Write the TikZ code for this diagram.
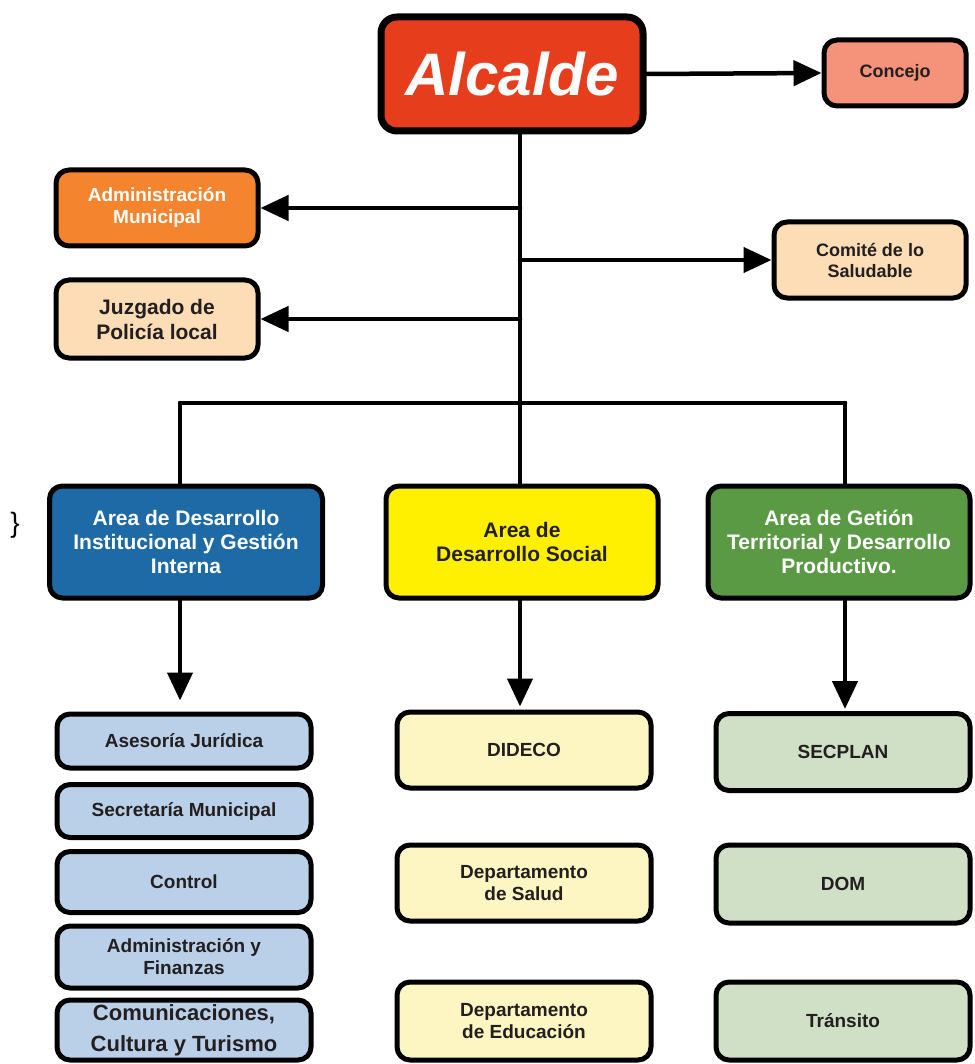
\documentclass[tikz,border=0pt]{standalone}
\usepackage{fontspec}
\setmainfont{Liberation Sans}
\usepackage{tikz}
\usetikzlibrary{arrows.meta}
\definecolor{rojo}{HTML}{E63E1C}
\definecolor{salmon}{HTML}{F4927A}
\definecolor{naranja}{HTML}{F5842F}
\definecolor{durazno}{HTML}{FCDDB6}
\definecolor{azul}{HTML}{1D6AA6}
\definecolor{amarillo}{HTML}{FFF000}
\definecolor{verde}{HTML}{5B9A45}
\definecolor{celeste}{HTML}{BAD0E9}
\definecolor{crema}{HTML}{FDF6C2}
\definecolor{verdeclaro}{HTML}{D0E0C6}
\definecolor{tinta}{HTML}{231F20}

\begin{document}
\begin{tikzpicture}[x=1pt,y=-1pt,line cap=round,line join=round,
  >={Triangle[length=28pt,width=25pt]},
  caja/.style={draw=black,line width=5pt,rounded corners=13pt,align=center,
    text=tinta,inner sep=0pt,font=\bfseries\fontsize{18}{21}\selectfont},
  hijo/.style={caja,minimum width=254pt,font=\bfseries\fontsize{19}{22}\selectfont},
  area/.style={caja,minimum height=112pt,font=\bfseries\fontsize{21}{24}\selectfont},
  linea/.style={line width=4.5pt}]
\useasboundingbox (0,0) rectangle (974,1064);
\fill[white] (0,0) rectangle (974,1064);

\node[caja,fill=rojo,text=white,line width=7pt,rounded corners=16pt,minimum width=262pt,minimum height=114pt,
  font=\bfseries\itshape\fontsize{60}{62}\selectfont] (alcalde) at (512,74) {Alcalde};
\node[caja,fill=salmon,minimum width=142pt,minimum height=66pt] (concejo) at (895,73) {Concejo};
\node[caja,fill=naranja,text=white,minimum width=202pt,minimum height=76pt,
  font=\bfseries\fontsize{19}{22}\selectfont] (admin) at (157,208) {Administración\\Municipal};
\node[caja,fill=durazno,minimum width=202pt,minimum height=78pt,
  font=\bfseries\fontsize{21}{25}\selectfont] (juzgado) at (157,319) {Juzgado de\\Policía local};
\node[caja,fill=durazno,minimum width=192pt,minimum height=76pt] (comite) at (870,260) {Comité de lo\\Saludable};

\node[area,fill=azul,text=white,minimum width=273pt] (inst) at (186,542) {Area de Desarrollo\\Institucional y Gestión\\Interna};
\node[area,fill=amarillo,minimum width=272pt] (social) at (522,542) {Area de\\Desarrollo Social};
\node[area,fill=verde,text=white,minimum width=262pt] (terr) at (839,542) {Area de Getión\\Territorial y Desarrollo\\Productivo.};

\node[hijo,fill=celeste,minimum height=54pt] (asesoria) at (184,741) {Asesoría Jurídica};
\node[hijo,fill=celeste,minimum height=53pt] (secretaria) at (184,811) {Secretaría Municipal};
\node[hijo,fill=celeste,minimum height=61pt] (control) at (184,882) {Control};
\node[hijo,fill=celeste,minimum height=62pt] (finanzas) at (184,957) {Administración y\\Finanzas};
\node[hijo,fill=celeste,minimum height=60pt,font=\bfseries\fontsize{22}{31}\selectfont] (comunic) at (184,1030) {Comunicaciones,\\Cultura y Turismo};

\node[hijo,fill=crema,minimum height=76pt] (dideco) at (524,750) {DIDECO};
\node[hijo,fill=crema,minimum height=76pt] (salud) at (524,883) {Departamento\\de Salud};
\node[hijo,fill=crema,minimum height=78pt] (educacion) at (524,1021) {Departamento\\de Educación};

\node[hijo,fill=verdeclaro,minimum height=77pt] (secplan) at (843,752) {SECPLAN};
\node[hijo,fill=verdeclaro,minimum height=78pt] (dom) at (843,884) {DOM};
\node[hijo,fill=verdeclaro,minimum height=78pt] (transito) at (843,1021) {Tránsito};

\node[font=\fontsize{28}{30}\selectfont] (llave) at (15,525) {\}};

\coordinate (tronco) at (520,403);
\coordinate (barraI) at (180,403);
\coordinate (barraD) at (845,403);

\draw[linea,->] (alcalde.east) -- (concejo.west);
\draw[linea] (alcalde.south -| tronco) -- (tronco);
\draw[linea,->] (tronco |- admin.east) -- (admin.east);
\draw[linea,->] (tronco |- comite.west) -- (comite.west);
\draw[linea,->] (tronco |- juzgado.east) -- (juzgado.east);
\draw[linea] (barraI) -- (barraD);
\draw[linea] (barraI) -- (barraI |- inst.north);
\draw[linea] (tronco) -- (tronco |- social.north);
\draw[linea] (barraD) -- (barraD |- terr.north);
\draw[linea,->,shorten >=11pt] (inst.south -| barraI) -- (asesoria.north -| barraI);
\draw[linea,->,shorten >=3pt] (social.south -| tronco) -- (dideco.north -| tronco);
\draw[linea,->,shorten >=2pt] (terr.south -| barraD) -- (secplan.north -| barraD);
\end{tikzpicture}
\end{document}
